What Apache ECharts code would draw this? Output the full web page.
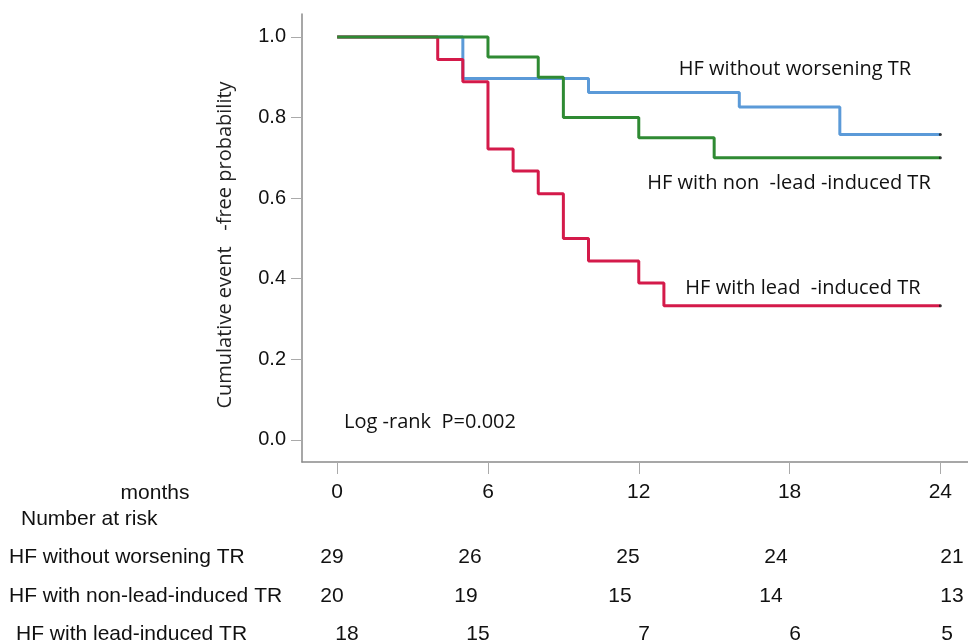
<!DOCTYPE html>
<html><head><meta charset="utf-8">
<script src="https://cdn.jsdelivr.net/npm/echarts@6/dist/echarts.min.js"></script>
<style>html,body{margin:0;padding:0;background:#fff}#c{width:968px;height:643px}</style>
</head><body><div id="c"></div>
<script>
// ---- data ----
const xTicks = [0, 6, 12, 18, 24];
const yTicks = [0, 0.2, 0.4, 0.6, 0.8, 1.0];
const seriesNames = ['HF without worsening TR', 'HF with non-lead-induced TR', 'HF with lead-induced TR'];
const noWorseTimes = [0, 5, 10, 16, 20, 24];
const noWorseSurv  = [1.0, 0.897, 0.862, 0.826, 0.758, 0.758];
const nonLeadTimes = [0, 6, 8, 9, 12, 15, 24];
const nonLeadSurv  = [1.0, 0.95, 0.90, 0.80, 0.75, 0.70, 0.70];
const leadTimes = [0, 4, 5, 6, 7, 8, 9, 10, 12, 13, 24];
const leadSurv  = [1.0, 0.944, 0.889, 0.722, 0.667, 0.611, 0.50, 0.444, 0.389, 0.333, 0.333];
const riskNoWorse = [29, 26, 25, 24, 21];
const riskNonLead = [20, 19, 15, 14, 13];
const riskLead    = [18, 15, 7, 6, 5];
const annotNames = ['HF without worsening TR', 'HF with non  -lead -induced TR', 'HF with lead  -induced TR'];
const yAxisTitle = 'Cumulative event   -free probability';
const logRankText = 'Log -rank  P=0.002';

// ---- build ----
const pairs = (t, s) => t.map((v, i) => [v, s[i]]);
const colors = ['#5b9ad8', '#2f8a33', '#d41a4a'];
const chart = echarts.init(document.getElementById('c'));
const sans = '"Liberation Sans", Arial, sans-serif';
const calib = '"Open Sans", "Liberation Sans", sans-serif';

const lineSeries = (name, data, color, z) => ({
  name, type: 'line', step: 'end', data, showSymbol: false, symbol: 'none',
  lineStyle: { color, width: 3 }, z, animation: false
});
const lastPts = [
  [noWorseTimes[noWorseTimes.length - 1], noWorseSurv[noWorseSurv.length - 1]],
  [nonLeadTimes[nonLeadTimes.length - 1], nonLeadSurv[nonLeadSurv.length - 1]],
  [leadTimes[leadTimes.length - 1], leadSurv[leadSurv.length - 1]]
];

const risks = [riskNoWorse, riskNonLead, riskLead];
const riskX = [[332, 470, 628, 776, 952], [332, 466, 620, 771, 952], [347, 478, 644, 795, 947]];
const rowY = [557, 596, 634];
const rowLabelX = [9, 9, 16];

const graphics = [];
graphics.push({ type: 'text', x: 225, y: 245, rotation: Math.PI / 2,
  style: { text: yAxisTitle, font: '20px ' + calib, fill: '#222', align: 'center', verticalAlign: 'middle' } });
graphics.push({ type: 'text', x: 155, y: 493,
  style: { text: 'months', font: '21px ' + sans, fill: '#111', align: 'center', verticalAlign: 'middle' } });
graphics.push({ type: 'text', x: 21, y: 519,
  style: { text: 'Number at risk', font: '21px ' + sans, fill: '#111', align: 'left', verticalAlign: 'middle' } });
seriesNames.forEach((n, r) => {
  graphics.push({ type: 'text', x: rowLabelX[r], y: rowY[r],
    style: { text: n, font: '21px ' + sans, fill: '#111', align: 'left', verticalAlign: 'middle' } });
  risks[r].forEach((v, i) => {
    graphics.push({ type: 'text', x: riskX[r][i], y: rowY[r],
      style: { text: String(v), font: '21px ' + sans, fill: '#111', align: 'center', verticalAlign: 'middle' } });
  });
});

const annotPos = [[795, 69], [789, 183], [803, 288]];
annotNames.forEach((t, i) => {
  graphics.push({ type: 'text', x: annotPos[i][0], y: annotPos[i][1],
    style: { text: t, font: '20px ' + calib, fill: '#111', align: 'center', verticalAlign: 'middle' } });
});
graphics.push({ type: 'text', x: 430, y: 422,
  style: { text: logRankText, font: '20px ' + calib, fill: '#111', align: 'center', verticalAlign: 'middle' } });

chart.setOption({
  animation: false,
  backgroundColor: '#fff',
  grid: { left: 302, top: 14, right: 0, bottom: 181, containLabel: false },
  xAxis: {
    type: 'value', min: -1.4, max: 25.1,
    splitLine: { show: false },
    axisLine: { show: true, onZero: false, lineStyle: { color: '#8a8a8a', width: 1.5 } },
    axisTick: { show: true, customValues: xTicks, length: 12, lineStyle: { color: '#aaa' } },
    axisLabel: { customValues: xTicks, margin: 20, fontSize: 21, fontFamily: sans, color: '#111',
      formatter: v => String(v) }
  },
  yAxis: {
    type: 'value', min: -0.055, max: 1.057,
    splitLine: { show: false },
    axisLine: { show: true, onZero: false, lineStyle: { color: '#8a8a8a', width: 1.5 } },
    axisTick: { show: true, customValues: yTicks, length: 11, lineStyle: { color: '#aaa' } },
    axisLabel: { customValues: yTicks, margin: 16, fontSize: 20, fontFamily: sans, color: '#111',
      formatter: v => v.toFixed(1) }
  },
  series: [
    lineSeries(seriesNames[0], pairs(noWorseTimes, noWorseSurv), colors[0], 2),
    lineSeries(seriesNames[2], pairs(leadTimes, leadSurv), colors[2], 3),
    lineSeries(seriesNames[1], pairs(nonLeadTimes, nonLeadSurv), colors[1], 4),
    { type: 'scatter', data: lastPts, symbolSize: 3, itemStyle: { color: '#111' }, z: 6 }
  ],
  graphic: graphics
});
</script></body></html>
